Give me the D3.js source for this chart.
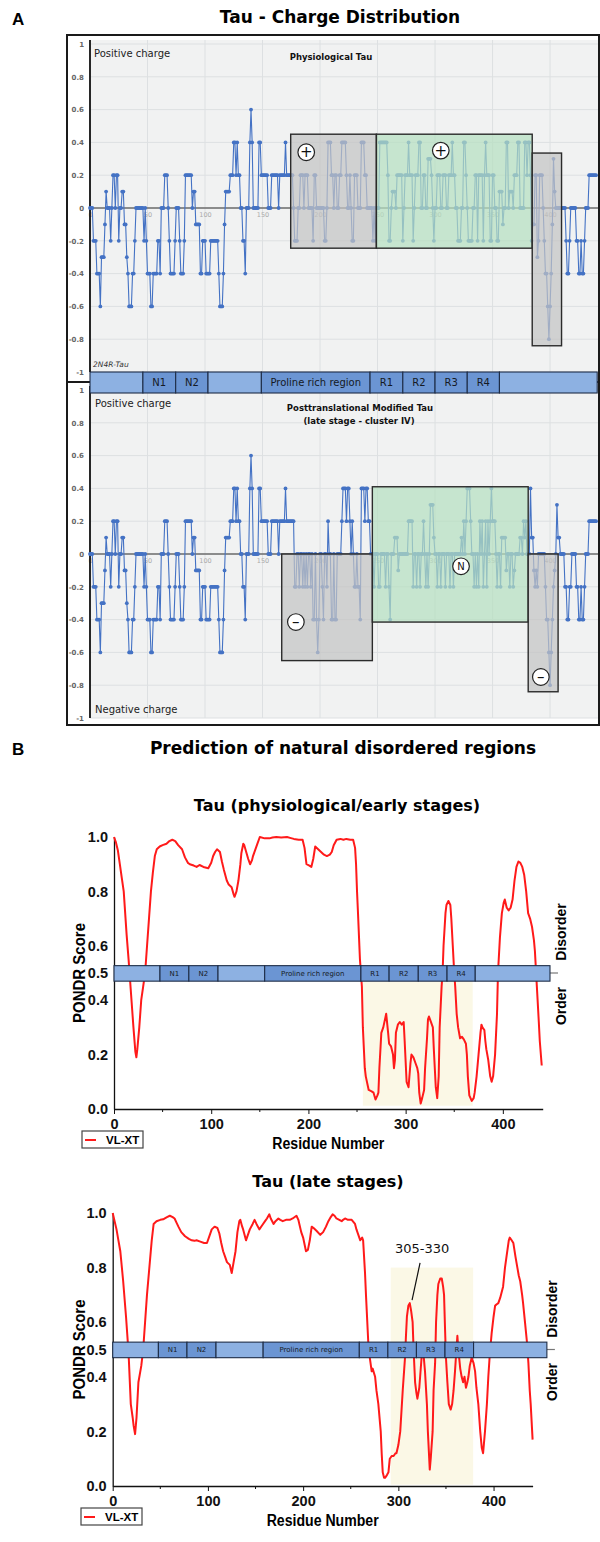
<!DOCTYPE html>
<html>
<head>
<meta charset="utf-8">
<script src="https://cdn.jsdelivr.net/npm/d3@7"></script>
<style>
  body { margin: 0; background: #fff; }
</style>
</head>
<body>
<div id="figure"></div>
<script>
// ---------- data: panel A (net charge per residue) ----------
var chargeXTicks = [0, 50, 100, 150, 200, 250, 300, 350, 400];
var chargeYTicks = [1, 0.8, 0.6, 0.4, 0.2, 0, -0.2, -0.4, -0.6, -0.8, -1];

// residues 0-159, same in both plots
var chargeShared = [
  0,0,0,-0.2,-0.2,-0.2,-0.4,-0.4,-0.4,-0.6,-0.3,-0.3,-0.3,-0.1,0.1,0,0,0,-0.2,0,
  0.2,0.2,0,0.2,0.2,-0.2,0,0,0.1,0.1,-0.1,-0.1,-0.3,-0.4,-0.6,-0.6,-0.6,-0.4,-0.4,-0.2,
  0,0,0,0,0,0,0,-0.2,0,-0.2,-0.4,-0.4,-0.4,-0.6,-0.6,-0.4,-0.4,-0.4,-0.4,-0.2,
  -0.2,-0.4,0,0,0,0.2,0.2,0.2,0,-0.2,-0.4,-0.4,-0.4,-0.4,-0.2,0,0,0,-0.2,-0.4,
  -0.4,-0.4,-0.2,0.2,0.2,0.2,0.2,0.2,0.2,0,0.1,0.1,-0.1,-0.1,-0.1,-0.1,-0.4,-0.4,-0.2,-0.2,
  -0.2,-0.4,-0.4,-0.4,-0.4,-0.2,-0.2,-0.2,-0.2,-0.2,-0.2,-0.2,-0.4,-0.6,-0.6,-0.6,-0.4,-0.1,0.1,0.1,
  0.1,0.1,0.2,0.2,0.2,0.4,0.4,0.2,0.4,0.2,0.2,0,0,-0.2,-0.2,-0.4,0,0,0,0.4,
  0.6,0.4,0,0,0,0,0,0.4,0.4,0.2,0.2,0.2,0.2,0.2,0.2,0,0,0,0.2,0.2
];
// residues 160-440, physiological tau
var chargePhysTail = [
  0.2,0.2,0.2,0.2,0,0.2,0.2,0.2,0.2,0.2,0.4,0.2,0.2,0.2,0.2,0.2,0.2,0,-0.2,-0.2,
  -0.2,0,0,0.2,0.2,0.2,0,0.2,0.2,0.2,0,0,0,0,-0.2,0.2,0.2,0,0,0,
  0,0,0,0,-0.2,-0.2,0,0.4,0.4,0.4,0.2,0.2,0,0.2,0.2,0,0,0.2,0.2,0.4,
  0.4,0.4,0.4,0.2,0,0,0.2,0,-0.2,-0.2,0.2,0.2,0.2,0,0,0,0.4,0.4,0.4,0.2,
  0.2,0,0,0,0,0,-0.2,0,-0.2,0,0,0,0.4,0.4,0.4,0.4,0.4,0.4,0.4,0.2,
  -0.2,-0.2,0,0.1,0.1,0.1,0,0.2,0.2,0.2,0.2,0.2,-0.2,0,0.2,0.2,0.2,0.4,0.2,0.2,
  0.2,-0.2,0,0.2,0.2,0.2,0.4,0.4,0,0,0.2,0.2,0,0,0.3,0.3,0.3,0.2,0,-0.2,
  0,0,0.2,0.2,0.2,0,0,0.2,0.2,0.2,0,0,0.2,0.2,0.2,0.4,0.2,0.2,0,0,
  -0.2,-0.2,-0.2,0,0,0.4,0.4,0.2,0,-0.2,-0.2,-0.2,-0.2,0,0,0.2,0.2,-0.2,0.2,0.2,
  0.2,0.2,-0.2,0.2,0.4,0.2,0.2,0.2,-0.2,-0.2,0.2,0.2,0,0,-0.2,-0.2,0.1,0.1,0.1,-0.1,
  0,0,0.4,0.4,0,0.1,0.1,0.1,0,0.2,0.2,0.2,0.4,0.4,0,0,0,0,0.4,0.4,
  0.2,0.4,0.4,0.2,-0.2,-0.1,-0.1,0.2,0.2,-0.3,-0.2,0.2,0.2,0.2,0,-0.2,-0.4,-0.4,-0.6,-0.8,
  -0.6,-0.4,-0.1,0.3,0.1,0,0,0,0,0,0,0,0,0,-0.2,-0.4,-0.4,-0.2,0,0,
  0,0,0,-0.2,-0.2,-0.4,-0.4,-0.2,-0.4,-0.4,-0.2,0,0,0,0.2,0.2,0.2,0.2,0.2,0.2,0.2
];
// residues 160-440, posttranslationally modified tau
var chargePtmTail = [
  0.2,0.2,0.2,0.2,0,0.2,0.2,0.2,0.2,0.2,0.4,0.2,0.2,0.2,0.2,0.2,0.2,0.2,-0.2,-0.2,
  0,0,-0.2,0,0,-0.2,0,-0.2,0,-0.2,0,0,-0.2,0,-0.4,-0.4,0,-0.4,-0.6,-0.4,
  0,0,-0.2,-0.4,0,0,-0.2,0.2,0,0,-0.4,-0.4,0,-0.4,-0.4,0,0,0,0,0.2,
  0.4,0.4,0.4,0.2,0.4,0.4,0.2,0,0.2,0,-0.2,-0.2,0,-0.2,-0.2,-0.4,0.4,0.4,0.4,0.2,
  0.4,0.4,0.2,0.2,0,0,0,-0.2,0,0,0,-0.2,-0.2,0,0,0,0,-0.2,0,0,
  -0.2,-0.4,0,0,0,0.1,0.1,0.1,-0.1,0,0,0,0,0,0,0,0,0.2,0.2,0.2,
  0.2,-0.2,0,0,-0.2,0,0,-0.2,0,0,0.2,0,-0.2,0,-0.2,0,0.3,0.3,0.3,0.1,
  0,0,-0.2,0,0,-0.2,0,0,0,-0.2,0,0,0,-0.2,0,0,-0.2,0,0,0,
  0,0,0,0.1,0,0.2,0,0.2,0.4,0.4,0.4,0.2,0,0,-0.2,0,-0.2,0,-0.2,0.2,
  0,0.2,-0.2,0,0.2,-0.2,0.2,0,0.2,0.4,0.2,0.2,0.2,0,-0.2,0,0,-0.2,0.1,0.1,
  0.1,0.1,-0.1,0,0,-0.2,0,0,-0.2,-0.1,0,0,0,0,0.1,0.1,0,0.2,0.1,0.2,
  0,0,0,0.4,0.1,0.1,-0.1,-0.2,-0.1,-0.2,0,0,0,0,0,0,-0.2,-0.4,-0.4,-0.6,
  -0.8,-0.6,-0.4,-0.2,-0.1,0,0.3,0.1,0.1,0,0,0,0,-0.2,-0.2,-0.4,-0.4,-0.2,-0.2,0,
  0,0,0,-0.2,-0.2,-0.4,-0.4,-0.2,-0.4,-0.4,-0.2,0,0,0,0.2,0.2,0.2,0.2,0.2,0.2,0.2
];
var chargePhys = chargeShared.concat(chargePhysTail);
var chargePtm = chargeShared.concat(chargePtmTail);

// highlighted regions: [from residue, to residue, top charge, bottom charge, kind]
var physBoxes = [[174.5, 249, 0.45, -0.245, "gray"], [249, 384.5, 0.45, -0.245, "green"], [384.5, 410, 0.335, -0.84, "gray"]];
var ptmBoxes = [[166.7, 245.5, 0, -0.65, "gray"], [245.5, 381, 0.41, -0.415, "green"], [381, 407, 0, -0.84, "gray"]];
// circled symbols: [residue, charge, symbol]
var physMarks = [[188, 0.34, "+"], [305, 0.35, "+"]];
var ptmMarks = [[179, -0.415, "-"], [322.6, -0.075, "N"], [392, -0.75, "-"]];

// tau domains
var domainNames = ["", "N1", "N2", "", "Proline rich region", "R1", "R2", "R3", "R4", ""];
var domainBoundsA = [0, 46, 74.5, 102.6, 149, 243.5, 272, 300, 328, 356, 441];
var domainBoundsEarly = [0, 47.3, 77, 107, 155, 254, 283, 313, 342.6, 371.6, 448.5];
var domainBoundsLate = [0, 48, 78, 108.5, 158, 259, 289, 319, 349, 379, 456];

// ---------- data: panel B (PONDR VL-XT score) ----------
var pondrTicksY = [0, 0.2, 0.4, 0.5, 0.6, 0.8, 1.0];
var pondrTicksX = [0, 100, 200, 300, 400];
var pondrMinorX = [50, 150, 250, 350];

var earlyRes = [0,2,4,6,8,10,13,15,16,18,20,22,23,24,26,28,30,32,34,36,38,40,42,44,47,50,54,57,60,63,66,70,73,76,78,82,85,88,92,97,100,102,104,106,109,111,113,116,118,121,123,124,126,128,130,131,133,134,136,138,140,142,143,145,147,150,155,160,163,167,172,178,182,185,190,194,196,198,201,203,205,207,210,213,216,219,222,224,226,229,233,236,239,243,246,248,249,250,251,253,254,255,256,258,259,262,265,267,269,271,272,273,275,277,280,282,283,285,287,288,289,290,292,294,296,298,299,301,303,305,306,308,310,312,313,314,315.5,317,319,320,322,323,324,326,328,329,330,331,332.5,334,335,337,338,339,341,342,344,346,347,348.5,350,351,352.5,354,356,358,360,362,363,364,365.5,368,370,371,373,375,377,378,379,381,382,383,385,387,388.5,390,392,394,395,397,399,401,402,404,406,408,410,412,414,416,418,420,422,424,426,428,430,432,433,435,437,438,440];
var earlyScore = [1.0,0.98,0.95,0.9,0.85,0.8,0.64,0.55,0.5,0.4,0.3,0.21,0.19,0.22,0.3,0.4,0.45,0.5,0.6,0.7,0.8,0.87,0.93,0.955,0.965,0.97,0.975,0.985,0.99,0.985,0.97,0.955,0.925,0.905,0.9,0.895,0.89,0.897,0.89,0.885,0.905,0.93,0.945,0.955,0.945,0.91,0.88,0.84,0.825,0.815,0.79,0.78,0.8,0.84,0.9,0.94,0.975,0.97,0.945,0.92,0.9,0.915,0.93,0.95,0.97,1.0,0.995,0.995,0.998,1.0,0.998,1.0,0.996,0.993,0.99,0.99,0.96,0.9,0.895,0.89,0.92,0.965,0.955,0.945,0.935,0.93,0.935,0.945,0.97,0.99,0.993,0.99,0.993,0.99,0.99,0.96,0.9,0.8,0.72,0.55,0.5,0.45,0.3,0.15,0.12,0.07,0.065,0.06,0.035,0.05,0.06,0.15,0.28,0.3,0.35,0.28,0.24,0.23,0.2,0.15,0.18,0.28,0.31,0.32,0.31,0.32,0.25,0.1,0.08,0.17,0.2,0.19,0.17,0.15,0.13,0.06,0.02,0.04,0.07,0.15,0.26,0.33,0.34,0.32,0.3,0.22,0.15,0.08,0.04,0.12,0.3,0.45,0.5,0.6,0.72,0.75,0.765,0.75,0.7,0.6,0.5,0.45,0.35,0.3,0.26,0.265,0.255,0.24,0.2,0.12,0.05,0.03,0.04,0.06,0.12,0.2,0.28,0.31,0.3,0.29,0.25,0.22,0.18,0.12,0.1,0.12,0.2,0.35,0.5,0.63,0.72,0.76,0.77,0.74,0.73,0.74,0.77,0.84,0.89,0.91,0.905,0.89,0.86,0.8,0.72,0.7,0.67,0.62,0.58,0.45,0.32,0.25,0.16];

var lateRes = [0,2,4,6,8,11,14,16,17,19,21,22,23.5,25,27,29,30,32,34,36,39,41,43,46,50,53,57,60,63,65,67,69,72,76,80,83,86,88,92,96,99,101,104,107,110,112,114,116,118,120,123,125,127,129,131,133,134,136,137,140,142,144,147,149,151,154,157,160,162,164.5,166,169,171,174,176,178.6,182,186,189,193,195,196,198,200,203,205,207,209,211,214,218,221,224,226.5,229,231,233,235,238,240.5,242,244,247,251,254.5,256,258,260,262,263,265,266,268.5,270,272,273,275.6,277,279,281.5,282.5,283.6,285,286,288,289.6,291,293,295,297,298,300,302,304.6,307,308,309,310.5,312,313.5,315,316,317.6,319,320,322,324.6,326,328,330,331,333,334,336,337,338.6,339.6,341,342,344,345.6,347,348,349,350,351.5,353,355,356.5,358,359.5,361,362,363,365,366.5,368,369.5,371,372.5,373.6,375,377,379,380.6,382,384,386,387.6,389,391,393,394.5,396,398,400,401.6,403,405,407,410,412,414,416,417,419,420.8,423,425,426.5,428,430,431,433,435,436.6,438,439,441];
var lateScore = [1.0,0.97,0.94,0.9,0.86,0.75,0.62,0.52,0.46,0.3,0.25,0.22,0.19,0.25,0.38,0.42,0.44,0.5,0.6,0.7,0.82,0.9,0.96,0.97,0.975,0.977,0.985,0.99,0.985,0.98,0.965,0.95,0.93,0.915,0.905,0.9,0.898,0.9,0.895,0.89,0.89,0.91,0.94,0.95,0.945,0.925,0.89,0.86,0.84,0.82,0.81,0.78,0.82,0.86,0.93,0.97,0.975,0.95,0.94,0.9,0.92,0.94,0.96,0.975,0.96,0.94,0.955,0.97,0.98,0.995,0.98,0.96,0.97,0.98,0.975,0.97,0.975,0.975,0.98,0.99,0.975,0.96,0.93,0.91,0.86,0.865,0.9,0.95,0.945,0.935,0.92,0.93,0.95,0.97,0.985,0.995,0.99,0.98,0.975,0.97,0.975,0.98,0.975,0.975,0.96,0.94,0.92,0.9,0.91,0.9,0.78,0.7,0.52,0.47,0.42,0.43,0.4,0.35,0.3,0.2,0.12,0.05,0.03,0.03,0.04,0.05,0.1,0.11,0.11,0.12,0.12,0.15,0.2,0.35,0.47,0.55,0.62,0.66,0.67,0.64,0.6,0.5,0.38,0.34,0.32,0.36,0.48,0.5,0.42,0.3,0.2,0.06,0.1,0.2,0.35,0.45,0.6,0.7,0.74,0.76,0.76,0.73,0.7,0.58,0.47,0.38,0.3,0.28,0.3,0.35,0.42,0.5,0.55,0.5,0.43,0.4,0.38,0.4,0.36,0.38,0.4,0.44,0.47,0.45,0.42,0.36,0.3,0.2,0.14,0.12,0.2,0.3,0.4,0.48,0.56,0.62,0.66,0.665,0.67,0.69,0.73,0.8,0.85,0.9,0.91,0.9,0.89,0.84,0.8,0.77,0.75,0.7,0.67,0.6,0.53,0.45,0.35,0.3,0.17];

// shaded residue ranges: [from, to, top score, bottom score]
var highlightEarly = [256, 369, 0.5, 0.012];
var highlightLate = [292, 378.6, 0.8, 0.005];

// ---------- drawing ----------
var sans = "'DejaVu Sans', Verdana, sans-serif";
var arial = "'Liberation Sans', Arial, Helvetica, sans-serif";
var lineBlue = "#4472c4";

var svg = d3.select("#figure")
  .append("svg")
    .attr("width", 600)
    .attr("height", 1542)
    .style("display", "block")
    .style("background", "#fff");

// panel letters and titles
svg.append("text").attr("x", 12).attr("y", 25).attr("font-family", arial)
  .attr("font-weight", "bold").attr("font-size", 17).text("A");
svg.append("text").attr("x", 340).attr("y", 23).attr("text-anchor", "middle")
  .attr("font-family", sans).attr("font-weight", "bold").attr("font-size", 17)
  .text("Tau - Charge Distribution");
svg.append("text").attr("x", 12).attr("y", 755).attr("font-family", arial)
  .attr("font-weight", "bold").attr("font-size", 17).text("B");
svg.append("text").attr("x", 343).attr("y", 754).attr("text-anchor", "middle")
  .attr("font-family", sans).attr("font-weight", "bold").attr("font-size", 17)
  .text("Prediction of natural disordered regions");

// ---- panel A ----
var xA = d3.scaleLinear().domain([0, 441]).range([90, 597.2]);
var yTop = d3.scaleLinear().domain([-1, 1]).range([372, 44]);
var yBottom = d3.scaleLinear().domain([-1, 1]).range([718, 390]);

function chargePlot(y, values, boxes, marks) {
  var g = svg.append("g");
  var top = y(1) - 4, bottom = y(-1);

  g.append("rect")
    .attr("x", xA(0)).attr("y", top)
    .attr("width", 598 - xA(0)).attr("height", bottom - top)
    .attr("fill", "#f1f2f2");

  // grid
  g.append("g").selectAll("line").data(chargeXTicks).join("line")
    .attr("x1", function(d) { return xA(d); }).attr("x2", function(d) { return xA(d); })
    .attr("y1", top).attr("y2", bottom)
    .attr("stroke", "#dde0e2").attr("stroke-width", 1);
  g.append("g").selectAll("line").data(chargeYTicks).join("line")
    .attr("x1", xA(0)).attr("x2", 598)
    .attr("y1", function(d) { return y(d); }).attr("y2", function(d) { return y(d); })
    .attr("stroke", "#dde0e2").attr("stroke-width", 1);

  // y labels
  var ya = g.append("g")
    .attr("transform", "translate(" + xA(0) + ",0)")
    .call(d3.axisLeft(y).tickValues(chargeYTicks).tickSize(0).tickPadding(6)
      .tickFormat(function(d) { return String(+d.toFixed(1)); }));
  ya.select(".domain").remove();
  ya.selectAll("text").attr("font-family", sans).attr("font-size", 7)
    .attr("font-weight", "bold").attr("fill", "#666");

  // x labels along the zero line
  var xa = g.append("g")
    .attr("transform", "translate(0," + y(0) + ")")
    .call(d3.axisBottom(xA).tickValues(chargeXTicks).tickSize(0).tickPadding(4));
  xa.select(".domain").remove();
  xa.selectAll("text").attr("font-family", sans).attr("font-size", 6.5).attr("fill", "#aaa");

  g.append("line").attr("x1", xA(0)).attr("x2", 598)
    .attr("y1", y(0)).attr("y2", y(0))
    .attr("stroke", "#6d6d6d").attr("stroke-width", 1.4);
  g.append("line").attr("x1", xA(0)).attr("x2", xA(0))
    .attr("y1", top).attr("y2", bottom)
    .attr("stroke", "#111").attr("stroke-width", 1.8);

  // series
  var line = d3.line()
    .x(function(d, i) { return xA(i); })
    .y(function(d) { return y(d); });
  g.append("path").datum(values)
    .attr("d", line)
    .attr("fill", "none").attr("stroke", lineBlue).attr("stroke-width", 1.1);
  g.append("g").selectAll("circle").data(values).join("circle")
    .attr("cx", function(d, i) { return xA(i); })
    .attr("cy", function(d) { return y(d); })
    .attr("r", 1.9)
    .attr("fill", lineBlue);

  // region boxes laid over the data
  g.append("g").selectAll("rect").data(boxes).join("rect")
    .attr("x", function(d) { return xA(d[0]); })
    .attr("y", function(d) { return y(d[2]); })
    .attr("width", function(d) { return xA(d[1]) - xA(d[0]); })
    .attr("height", function(d) { return y(d[3]) - y(d[2]); })
    .attr("fill", function(d) { return d[4] == "green" ? "#b6dfc0" : "#c3c3c3"; })
    .attr("fill-opacity", 0.72)
    .attr("stroke", "#2b2b2b").attr("stroke-width", 1.4);

  var m = g.append("g").selectAll("g").data(marks).join("g")
    .attr("transform", function(d) { return "translate(" + xA(d[0]) + "," + y(d[1]) + ")"; });
  m.append("circle").attr("r", 8.3).attr("fill", "#fff")
    .attr("stroke", "#222").attr("stroke-width", 1.2);
  m.append("text").attr("text-anchor", "middle")
    .attr("dy", function(d) { return d[2] == "N" ? "0.36em" : "0.35em"; })
    .attr("font-family", sans)
    .attr("font-size", function(d) { return d[2] == "N" ? 10 : 15; })
    .attr("fill", "#111")
    .text(function(d) { return d[2] == "-" ? "\u2013" : d[2]; });
}

chargePlot(yTop, chargePhys, physBoxes, physMarks);
chargePlot(yBottom, chargePtm, ptmBoxes, ptmMarks);

// captions inside panel A
svg.append("text").attr("x", 94).attr("y", 57).attr("font-family", sans).attr("font-size", 10)
  .attr("fill", "#222").text("Positive charge");
svg.append("text").attr("x", 331).attr("y", 60).attr("text-anchor", "middle").attr("font-family", sans)
  .attr("font-size", 8.5).attr("font-weight", "bold").attr("fill", "#111").text("Physiological Tau");
svg.append("text").attr("x", 93).attr("y", 367).attr("font-family", sans).attr("font-size", 7.5)
  .attr("font-style", "italic").attr("fill", "#333").text("2N4R-Tau");
svg.append("text").attr("x", 95).attr("y", 407).attr("font-family", sans).attr("font-size", 10)
  .attr("fill", "#222").text("Positive charge");
svg.append("text").attr("x", 360).attr("y", 411).attr("text-anchor", "middle").attr("font-family", sans)
  .attr("font-size", 8.5).attr("font-weight", "bold").attr("fill", "#111").text("Posttranslational Modified Tau");
svg.append("text").attr("x", 359).attr("y", 424).attr("text-anchor", "middle").attr("font-family", sans)
  .attr("font-size", 8.5).attr("font-weight", "bold").attr("fill", "#111").text("(late stage - cluster IV)");
svg.append("text").attr("x", 95).attr("y", 713).attr("font-family", sans).attr("font-size", 10)
  .attr("fill", "#222").text("Negative charge");

// frame of panel A
svg.append("rect").attr("x", 67).attr("y", 35).attr("width", 532).attr("height", 690)
  .attr("fill", "none").attr("stroke", "#1a1a1a").attr("stroke-width", 2);
svg.append("line").attr("x1", 67).attr("x2", 599).attr("y1", 382).attr("y2", 382)
  .attr("stroke", "#1a1a1a").attr("stroke-width", 2);

// domain bar drawn as segments
function domainBar(x, yPos, h, bounds, fontSize) {
  var segs = domainNames.map(function(name, i) { return { name: name, a: bounds[i], b: bounds[i + 1] }; });
  var g = svg.append("g");
  g.selectAll("rect").data(segs).join("rect")
    .attr("x", function(d) { return x(d.a); })
    .attr("y", yPos)
    .attr("width", function(d) { return x(d.b) - x(d.a); })
    .attr("height", h)
    .attr("fill", function(d) { return d.name ? "#6b95d3" : "#8db1e2"; })
    .attr("stroke", "#1e2d47").attr("stroke-width", 1.1);
  g.selectAll("text").data(segs.filter(function(d) { return d.name; })).join("text")
    .attr("x", function(d) { return (x(d.a) + x(d.b)) / 2; })
    .attr("y", yPos + h / 2)
    .attr("dy", "0.36em")
    .attr("text-anchor", "middle")
    .attr("font-family", sans).attr("font-size", fontSize)
    .attr("fill", "#151a24")
    .text(function(d) { return d.name; });
}

domainBar(xA, 372, 21, domainBoundsA, 10);

// ---- panel B ----
function pondrPlot(cfg) {
  var x = d3.scaleLinear().domain([0, 441]).range(cfg.xRange);
  var y = d3.scaleLinear().domain([0, 1]).range(cfg.yRange);
  var g = svg.append("g");
  var hl = cfg.highlight;

  g.append("text").attr("x", cfg.titleX).attr("y", cfg.titleY).attr("text-anchor", "middle")
    .attr("font-family", sans).attr("font-weight", "bold").attr("font-size", 16)
    .text(cfg.title);

  g.append("rect")
    .attr("x", x(hl[0])).attr("y", y(hl[2]))
    .attr("width", x(hl[1]) - x(hl[0])).attr("height", y(hl[3]) - y(hl[2]))
    .attr("fill", "#fbf8e6");

  // axes
  var ya = g.append("g").attr("transform", "translate(" + x(0) + ",0)")
    .call(d3.axisLeft(y).tickValues(pondrTicksY).tickSize(0).tickPadding(6).tickFormat(d3.format(".1f")));
  ya.select(".domain").attr("stroke", "#111").attr("stroke-width", 1.3);
  ya.selectAll("text").attr("font-family", arial).attr("font-weight", "bold")
    .attr("font-size", 14.5).attr("fill", "#111");

  var xa = g.append("g").attr("transform", "translate(0," + y(0) + ")")
    .call(d3.axisBottom(x).tickValues(pondrTicksX).tickSize(5).tickSizeOuter(0).tickPadding(5));
  xa.select(".domain").attr("stroke", "#111").attr("stroke-width", 1.3);
  xa.selectAll("line").attr("stroke", "#111");
  xa.selectAll("text").attr("font-family", arial).attr("font-weight", "bold")
    .attr("font-size", 14.5).attr("fill", "#111");
  g.append("g").selectAll("line").data(pondrMinorX).join("line")
    .attr("x1", function(d) { return x(d); }).attr("x2", function(d) { return x(d); })
    .attr("y1", y(0)).attr("y2", y(0) + 3)
    .attr("stroke", "#111");

  // score curve
  var pts = cfg.res.map(function(r, i) { return [r, cfg.score[i]]; });
  g.append("path").datum(pts)
    .attr("d", d3.line().x(function(d) { return x(d[0]); }).y(function(d) { return y(d[1]); }))
    .attr("fill", "none").attr("stroke", "#ff1a1a").attr("stroke-width", 2)
    .attr("stroke-linejoin", "round");

  // domains across the 0.5 threshold
  var barEnd = cfg.bounds[cfg.bounds.length - 1];
  g.append("line").attr("x1", x(barEnd)).attr("x2", x(barEnd) + 8)
    .attr("y1", y(0.5)).attr("y2", y(0.5)).attr("stroke", "#777").attr("stroke-width", 1.2);
  domainBar(x, y(0.527), y(0.47) - y(0.527), cfg.bounds, 7);

  // labels
  g.append("text")
    .attr("transform", "translate(85," + (y(0.5)) + ") rotate(-90)")
    .attr("text-anchor", "middle").attr("font-family", arial).attr("font-weight", "bold")
    .attr("font-size", 16).attr("textLength", 100).attr("lengthAdjust", "spacingAndGlyphs")
    .text("PONDR Score");
  g.append("text")
    .attr("x", (x(0) + x(441)) / 2).attr("y", y(0) + cfg.xTitleGap)
    .attr("text-anchor", "middle").attr("font-family", arial).attr("font-weight", "bold")
    .attr("font-size", 16).attr("textLength", 112).attr("lengthAdjust", "spacingAndGlyphs")
    .text("Residue Number");
  g.append("text")
    .attr("transform", "translate(" + cfg.sideX + "," + cfg.disorderY + ") rotate(-90)")
    .attr("text-anchor", "middle").attr("font-family", arial).attr("font-weight", "bold")
    .attr("font-size", 14).text("Disorder");
  g.append("text")
    .attr("transform", "translate(" + cfg.sideX + "," + cfg.orderY + ") rotate(-90)")
    .attr("text-anchor", "middle").attr("font-family", arial).attr("font-weight", "bold")
    .attr("font-size", 14).text("Order");

  // legend
  var lg = g.append("g").attr("transform", "translate(" + cfg.legend[0] + "," + cfg.legend[1] + ")");
  lg.append("rect").attr("width", 61).attr("height", 17)
    .attr("fill", "#fff").attr("stroke", "#444").attr("stroke-width", 1.2);
  lg.append("line").attr("x1", 3).attr("x2", 14).attr("y1", 9).attr("y2", 9)
    .attr("stroke", "#ff1a1a").attr("stroke-width", 2);
  lg.append("text").attr("x", 24).attr("y", 13).attr("font-family", arial)
    .attr("font-weight", "bold").attr("font-size", 11.5).text("VL-XT");

  return { x: x, y: y, g: g };
}

pondrPlot({
  title: "Tau (physiological/early stages)", titleX: 337, titleY: 811,
  xRange: [114, 542.7], yRange: [1109, 837],
  res: earlyRes, score: earlyScore, bounds: domainBoundsEarly, highlight: highlightEarly,
  xTitleGap: 40, sideX: 566, disorderY: 932, orderY: 1006, legend: [82, 1131]
});

var late = pondrPlot({
  title: "Tau (late stages)", titleX: 328, titleY: 1187,
  xRange: [112.7, 532.6], yRange: [1486, 1213],
  res: lateRes, score: lateScore, bounds: domainBoundsLate, highlight: highlightLate,
  xTitleGap: 40, sideX: 557, disorderY: 1309, orderY: 1382, legend: [81, 1508]
});

// 305-330 callout
late.g.append("line")
  .attr("x1", late.x(322.8)).attr("y1", late.y(0.817))
  .attr("x2", late.x(314.4)).attr("y2", late.y(0.681))
  .attr("stroke", "#111").attr("stroke-width", 1.2);
late.g.append("text")
  .attr("x", late.x(325)).attr("y", late.y(0.853))
  .attr("text-anchor", "middle").attr("font-family", sans).attr("font-size", 13)
  .attr("fill", "#111").text("305-330");
</script>
</body>
</html>
